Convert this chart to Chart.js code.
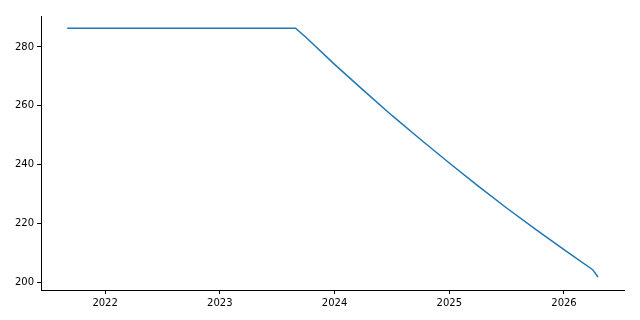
<!DOCTYPE html>
<html>
<head>
<meta charset="utf-8">
<script src="https://cdn.jsdelivr.net/npm/chart.js@4/dist/chart.umd.min.js"></script>
<style>
  html, body { margin: 0; padding: 0; background: #fff; }
  #wrap { width: 640px; height: 320px; }
</style>
</head>
<body>
<div id="wrap"><canvas id="chart" width="640" height="320"></canvas></div>
<script>
// --- Data ---
const years = [2021.67, 2023.66, 2023.75, 2024.0, 2024.25, 2024.5, 2024.75, 2025.0,
               2025.25, 2025.5, 2025.75, 2026.0, 2026.25, 2026.296];
const values = [286.4, 286.4, 283.3, 274.1, 265.3, 256.7, 248.5, 240.5,
                232.7, 225.2, 218.0, 211.0, 204.2, 201.7];
const xTicks = [2022, 2023, 2024, 2025, 2026];
const yTicks = [200, 220, 240, 260, 280];

const points = years.map((x, i) => ({ x: x, y: values[i] }));
const tickFont = { family: 'DejaVu Sans', size: 10 };

// --- Chart ---
const ctx = document.getElementById('chart').getContext('2d');
new Chart(ctx, {
    type: 'line',
    data: {
        datasets: [{
            data: points,
            borderColor: '#1f77b4',
            borderWidth: 1.5,
            pointRadius: 0,
            fill: false,
            tension: 0
        }]
    },
    options: {
        responsive: false,
        animation: false,
        layout: { padding: { left: 12, right: 16, top: 16, bottom: 8 } },
        plugins: { legend: { display: false }, tooltip: { enabled: false } },
        scales: {
            x: {
                type: 'linear',
                min: 2021.442,
                max: 2026.523,
                afterBuildTicks: (scale) => { scale.ticks = xTicks.map(v => ({ value: v })); },
                ticks: { color: '#000', font: tickFont, padding: 3, maxRotation: 0,
                         callback: (v) => String(v) },
                grid: { drawOnChartArea: false, color: '#000', tickLength: 4 },
                border: { color: '#000', width: 1 }
            },
            y: {
                min: 197.28,
                max: 290.55,
                afterBuildTicks: (scale) => { scale.ticks = yTicks.map(v => ({ value: v })); },
                ticks: { color: '#000', font: tickFont, padding: 3 },
                grid: { drawOnChartArea: false, color: '#000', tickLength: 4 },
                border: { color: '#000', width: 1 }
            }
        }
    }
});
</script>
</body>
</html>
